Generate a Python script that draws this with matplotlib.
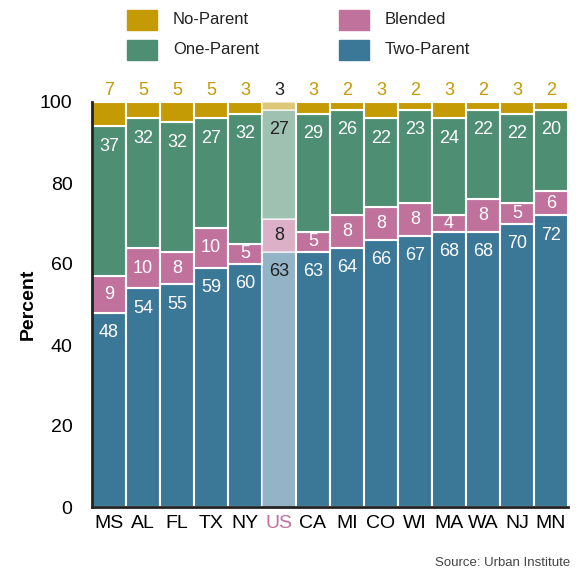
import numpy as np
import matplotlib.pyplot as plt
from matplotlib.patches import Rectangle

plt.rcParams['font.family'] = ['Liberation Sans', 'DejaVu Sans']

# =========================
# data
states = ["MS", "AL", "FL", "TX", "NY", "US", "CA", "MI", "CO", "WI", "MA", "WA", "NJ", "MN"]
two_parent = [48, 54, 55, 59, 60, 63, 63, 64, 66, 67, 68, 68, 70, 72]
blended = [9, 10, 8, 10, 5, 8, 5, 8, 8, 8, 4, 8, 5, 6]
one_parent = [37, 32, 32, 27, 32, 27, 29, 26, 22, 23, 24, 22, 22, 20]
no_parent = [7, 5, 5, 5, 3, 3, 3, 2, 3, 2, 3, 2, 3, 2]

c_two = "#3b7797"
c_blend = "#c0729c"
c_one = "#4e8e72"
c_none = "#c49a05"
highlight = "US"

# =========================
fig = plt.figure(figsize=(5.79, 5.72), dpi=100)
ax = fig.add_axes([92 / 579, 65 / 572, 476 / 579, 405 / 572])

x = np.arange(len(states))
b1 = np.array(two_parent)
b2 = b1 + np.array(blended)
b3 = b2 + np.array(one_parent)
# rounded shares: no-parent block fills the bar up to 100
none_h = np.clip(100 - b3, 0, None)

series = [
    (two_parent, 0, c_two),
    (blended, b1, c_blend),
    (one_parent, b2, c_one),
    (none_h, b3, c_none),
]
for vals, bottom, col in series:
    bars = ax.bar(x, vals, bottom=bottom, width=1.0, color=col,
                  edgecolor="white", linewidth=1.5)
    for i, s in enumerate(states):
        if s == highlight:
            bars[i].set_alpha(0.55)

# labels inside bars
for i, s in enumerate(states):
    tc = "#222222" if s == highlight else "white"
    ax.text(i, b1[i] - 4.9, str(two_parent[i]), ha="center", va="center",
            fontsize=13, color=tc)
    ax.text(i, b1[i] + blended[i] / 2, str(blended[i]), ha="center", va="center",
            fontsize=13, color=tc)
    ax.text(i, b3[i] - 4.9, str(one_parent[i]), ha="center", va="center",
            fontsize=13, color=tc)
    nc = "#222222" if s == highlight else c_none
    ax.annotate(str(no_parent[i]), (i, 100), xytext=(0, 2), textcoords="offset points",
                ha="center", va="bottom", fontsize=13, color=nc, annotation_clip=False)

ax.set_xlim(-0.5, len(states) - 0.5)
ax.set_ylim(0, 100)
ax.set_yticks([0, 20, 40, 60, 80, 100])
ax.set_xticks(x)
ax.set_xticklabels(states, fontsize=14)
ax.tick_params(axis="y", labelsize=14, length=0, pad=14)
ax.tick_params(axis="x", length=0, pad=6)
for lbl in ax.get_xticklabels():
    if lbl.get_text() == highlight:
        lbl.set_color(c_blend)
for sp in ["top", "right"]:
    ax.spines[sp].set_visible(False)
for sp in ["left", "bottom"]:
    ax.spines[sp].set_linewidth(2)
    ax.spines[sp].set_color("#222222")
ax.set_ylabel("Percent", fontsize=14, fontweight="bold", labelpad=2)

# legend (drawn by hand to match the layout)
legend_items = [("No-Parent", c_none, 127, 10), ("One-Parent", c_one, 127, 40),
                ("Blended", c_blend, 339, 10), ("Two-Parent", c_two, 339, 40)]
for name, col, px, py in legend_items:
    fig.patches.append(Rectangle((px / 579, 1 - (py + 20) / 572), 30 / 579, 20 / 572,
                                 transform=fig.transFigure, color=col))
    fig.text((px + 46) / 579, 1 - (py + 10) / 572, name, fontsize=12,
             va="center", ha="left", color="#222222")

fig.text(570 / 579, 1 - 563 / 572, "Source: Urban Institute", fontsize=9.5,
         ha="right", va="center", color="#444444")

fig.savefig("out.png", dpi=100)
